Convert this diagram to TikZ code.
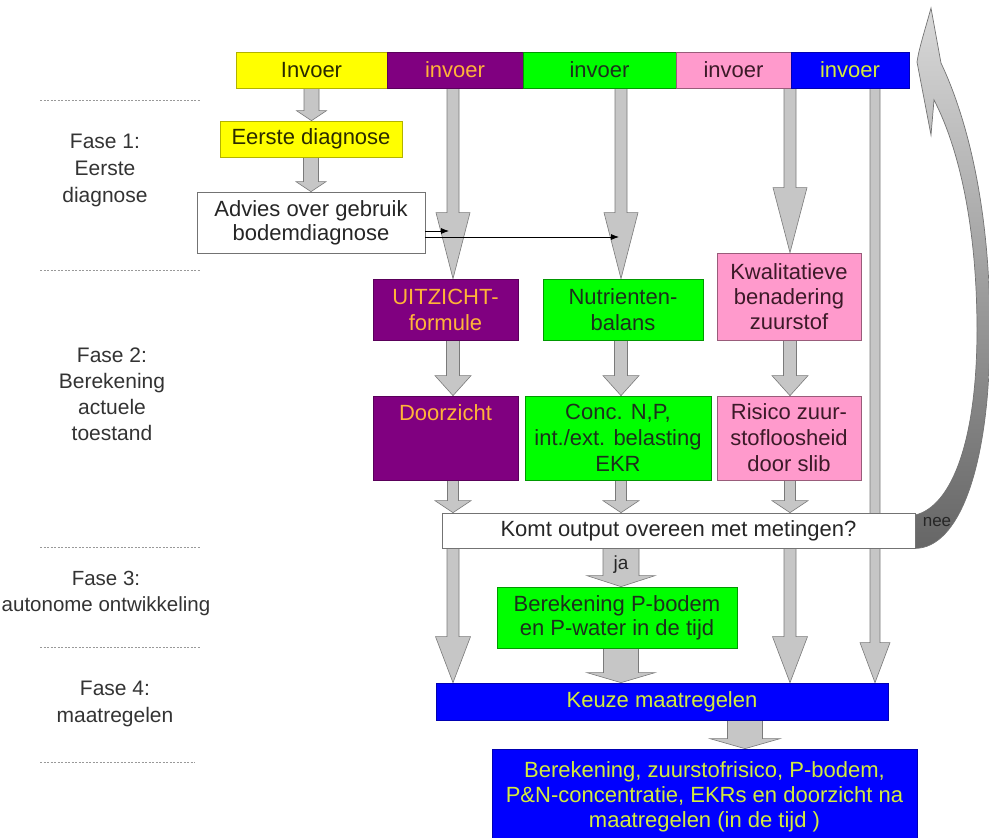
\documentclass[tikz,border=0pt]{standalone}
\usepackage{fontspec}
\setmainfont{Liberation Sans}
\usetikzlibrary{calc,backgrounds,arrows.meta}

\definecolor{cYel}{HTML}{FFFF00}
\definecolor{cPur}{HTML}{800080}
\definecolor{cGrn}{HTML}{00FF00}
\definecolor{cPnk}{HTML}{FF9ACC}
\definecolor{cBlu}{HTML}{0000FF}
\definecolor{tYel}{HTML}{2A2A00}
\definecolor{tPur}{HTML}{FFB438}
\definecolor{tGrn}{HTML}{1C301C}
\definecolor{tPnk}{HTML}{3C1A28}
\definecolor{tBlu}{HTML}{D4EC3C}
\definecolor{tPhase}{HTML}{333333}
\definecolor{arrFill}{HTML}{C6C6C6}
\definecolor{arrLine}{HTML}{7A7A7A}

% vertical block arrow: [options]{from}{to}{shaft half width}{head half width}{head length}
\newcommand\barrow[6][]{%
  \path[blockarr,#1] let \p1=#2, \p2=#3 in
    (\x1-#4,\y1) -- (\x1-#4,\y2+#6) -- (\x1-#5,\y2+#6) -- (\x1,\y2)
    -- (\x1+#5,\y2+#6) -- (\x1+#4,\y2+#6) -- (\x1+#4,\y1) -- cycle;}

\begin{document}
\begin{tikzpicture}[x=1pt,y=-1pt,
  box/.style={line width=0.7pt, inner sep=0pt, align=center,
    font=\fontsize{22}{26}\selectfont},
  yelbox/.style={box, fill=cYel, draw=cYel!70!black, text=tYel},
  purbox/.style={box, fill=cPur, draw=cPur!70!black, text=tPur},
  grnbox/.style={box, fill=cGrn, draw=cGrn!60!black, text=tGrn},
  pnkbox/.style={box, fill=cPnk, draw=cPnk!60!black, text=tPnk},
  blubox/.style={box, fill=cBlu, draw=cBlu!70!black, text=tBlu},
  whtbox/.style={box, fill=white, draw=black!55, text=black!85},
  phase/.style={align=center, text=tPhase, font=\fontsize{21}{27}\selectfont},
  phaseline/.style={draw=black!40, line width=0.7pt, dash pattern=on 2pt off 1.5pt},
  blockarr/.style={fill=arrFill, draw=arrLine, line width=0.6pt},
  thinarr/.style={draw=black, line width=0.8pt, -{Latex[length=8pt,width=6pt]}}
]
\useasboundingbox (0,0) rectangle (989,838);

% column positions of the long vertical arrows
\coordinate (cP) at (453,0);
\coordinate (cG) at (621,0);
\coordinate (cK) at (790,0);
\coordinate (cB) at (875,0);
\coordinate (cF) at (745,0);

% input bar
\node[yelbox, minimum width=151pt, minimum height=36pt] (invY) at (311.5,70) {Invoer};
\node[purbox, minimum width=136pt, minimum height=36pt] (invP) at (455,70) {invoer};
\node[grnbox, minimum width=153pt, minimum height=36pt] (invG) at (599.5,70) {invoer};
\node[pnkbox, minimum width=115pt, minimum height=36pt] (invK) at (733.5,70) {invoer};
\node[blubox, minimum width=118pt, minimum height=36pt] (invB) at (850,70) {invoer};

% phase 1
\node[yelbox, minimum width=182pt, minimum height=36pt] (eerste) at (311,139) {Eerste diagnose};
\node[whtbox, minimum width=228pt, minimum height=61pt, font=\fontsize{22}{24}\selectfont] (advies) at (311,222.5)
  {Advies over gebruik\\bodemdiagnose};

% phase 2
\node[purbox, minimum width=145pt, minimum height=61pt] (uitz) at (445.5,309.5) {UITZICHT-\\formule};
\node[grnbox, minimum width=160pt, minimum height=61pt] (nutr) at (623,309.5) {Nutrienten-\\balans};
\node[pnkbox, minimum width=144pt, minimum height=87pt, font=\fontsize{22}{25}\selectfont] (kwal) at (789,296.5)
  {Kwalitatieve\\benadering\\zuurstof};
\node[purbox, minimum width=145pt, text height=24pt, text depth=60pt] (door) at (445.5,438) {Doorzicht};
\node[grnbox, minimum width=186pt, minimum height=84pt] (conc) at (618,438)
  {Conc. N,P,\\int./ext. belasting\\EKR};
\node[pnkbox, minimum width=144pt, minimum height=84pt] (risico) at (789,438)
  {Risico zuur-\\stofloosheid\\door slib};

% check, phase 3 and 4
\node[whtbox, minimum width=473pt, minimum height=35pt] (komt) at (678.5,530.5) {Komt output overeen met metingen?};
\node[grnbox, minimum width=240pt, minimum height=61pt, font=\fontsize{22}{24}\selectfont] (berek) at (617,617.5)
  {Berekening P-bodem\\en P-water in de tijd};
\node[blubox, minimum width=452pt, minimum height=37pt] (keuze) at (662,701.5) {Keuze maatregelen};
\node[blubox, minimum width=425pt, minimum height=96pt, font=\fontsize{22}{25}\selectfont] (final) at (704.5,797)
  {Berekening, zuurstofrisico, P-bodem,\\P\&N-concentratie, EKRs en doorzicht na\\maatregelen (in de tijd )};

% phase labels and separators
\node[phase] (f1) at (105,170) {Fase 1:\\Eerste\\diagnose};
\node[phase, font=\fontsize{21}{26}\selectfont] (f2) at (112,394) {Fase 2:\\Berekening\\actuele\\toestand};
\node[phase, font=\fontsize{20.5}{26}\selectfont] (f3) at (106,593) {Fase 3:\\autonome ontwikkeling};
\node[phase] (f4) at (115,704) {Fase 4:\\maatregelen};
\draw[phaseline] (40,100) -- (200,100);
\draw[phaseline] (40,270) -- (200,270);
\draw[phaseline] (40,547) -- (200,547);
\draw[phaseline] (40,647) -- (200,647);
\draw[phaseline] (40,762) -- (195,762);

% gray block arrows, behind the boxes
\begin{scope}[on background layer]
  \barrow{(invY.south)}{(eerste.north)}{7.5pt}{15pt}{10pt}
  \barrow{(eerste.south)}{(advies.north)}{7.5pt}{15pt}{10pt}
  \barrow{(invP.south -| cP)}{(uitz.north -| cP)}{6pt}{17pt}{66pt}
  \barrow{(invG.south -| cG)}{(nutr.north -| cG)}{6pt}{17pt}{66pt}
  \barrow{(invK.south -| cK)}{(kwal.north -| cK)}{6pt}{17pt}{65pt}
  \barrow{(invB.south -| cB)}{(keuze.north -| cB)}{5pt}{15pt}{40pt}
  \barrow{(uitz.south -| cP)}{(door.north -| cP)}{6.5pt}{18pt}{20pt}
  \barrow{(nutr.south -| cG)}{(conc.north -| cG)}{6.5pt}{18pt}{20pt}
  \barrow{(kwal.south -| cK)}{(risico.north -| cK)}{6.5pt}{18pt}{20pt}
  \barrow{(door.south -| cP)}{(komt.north -| cP)}{5.5pt}{18pt}{12pt}
  \barrow{(conc.south -| cG)}{(komt.north -| cG)}{5.5pt}{18pt}{12pt}
  \barrow{(risico.south -| cK)}{(komt.north -| cK)}{5.5pt}{18pt}{12pt}
  \barrow{(komt.south -| cP)}{(keuze.north -| cP)}{6pt}{17.5pt}{46pt}
  \barrow{(komt.south -| cK)}{(keuze.north -| cK)}{6pt}{17.5pt}{46pt}
  \barrow{(komt.south -| cG)}{(berek.north -| cG)}{18pt}{34pt}{11pt}
  \barrow{(berek.south -| cG)}{(keuze.north -| cG)}{17.5pt}{34pt}{10pt}
  \barrow{(keuze.south -| cF)}{(final.north -| cF)}{17.5pt}{35pt}{10pt}

  % feedback arrow from the check back to the inputs
  \shadedraw[top color=black!15, bottom color=black!60, draw=black!55, line width=0.7pt]
    (komt.south east)
    .. controls (958,548) and (990,470) .. (990,330)
    .. controls (990,210) and (968,120) .. (941,63)
    -- (931,8)
    .. controls (925,30) and (919,48) .. (917,62)
    -- (931,135) -- (934,100)
    .. controls (960,150) and (977,230) .. (977,330)
    .. controls (977,440) and (952,506) .. (komt.east |- 0,515) -- cycle;
\end{scope}

\node[font=\fontsize{19}{20}\selectfont, text=black!85] (ja) at (621,565) {ja};
\node[font=\fontsize{17}{18}\selectfont, text=black!85] (nee) at (937,522) {nee};

% advice feeds into the two calculation columns
\coordinate (tP) at (449,231);
\coordinate (tG) at (619,237);
\draw[thinarr] (advies.east |- tP) -- (tP);
\draw[thinarr] (advies.east |- tG) -- (tG);
\end{tikzpicture}
\end{document}
